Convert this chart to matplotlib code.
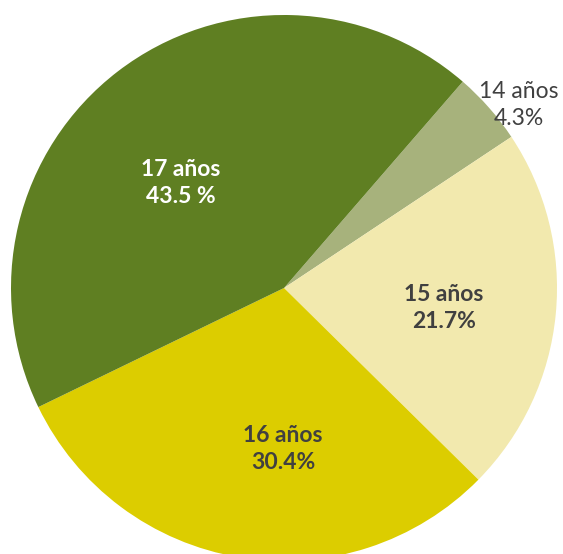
import numpy as np
import matplotlib.pyplot as plt

labels = ['14 años', '15 años', '16 años', '17 años']
values = [4.3, 21.7, 30.4, 43.5]
pct_text = ['4.3%', '21.7%', '30.4%', '43.5 %']
colors = ['#a7b27c', '#f2e9ae', '#dccd00', '#5f7f22']
text_colors = ['#404040', '#404040', '#404040', '#ffffff']
weights = ['normal', 'bold', 'bold', 'bold']
label_dist = [1.09, 0.59, 0.59, 0.54]
angle_shift = [-3.5, -1.5, 9, 7]

W, H = 563, 554
cx, cy, r = 284, 288, 273

fig = plt.figure(figsize=(W / 100, H / 100), dpi=100)
ax = fig.add_axes([0, 0, 1, 1])
wedges, _ = ax.pie(values, colors=colors, startangle=49.1, counterclock=False,
                   radius=1.0, wedgeprops=dict(linewidth=0))
ax.set_xlim(-cx / r, (W - cx) / r)
ax.set_ylim(-(H - cy) / r, cy / r)
ax.set_aspect('auto')
ax.axis('off')

for w, lab, pct, tc, fw, d, sh in zip(wedges, labels, pct_text, text_colors,
                                       weights, label_dist, angle_shift):
    ang = np.deg2rad((w.theta1 + w.theta2) / 2 + sh)
    ax.text(d * np.cos(ang), d * np.sin(ang), lab + '\n' + pct, ha='center', va='center',
            fontsize=16.5, color=tc, fontweight=fw, family=['Lato', 'DejaVu Sans'],
            linespacing=1.35)

fig.savefig('out.png', dpi=100)
